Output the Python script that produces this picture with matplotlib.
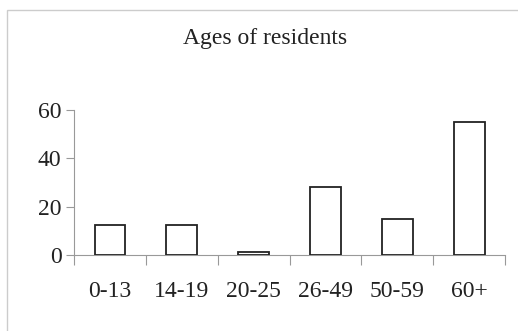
import matplotlib
matplotlib.use("Agg")
import matplotlib.pyplot as plt
from matplotlib.patches import Rectangle
import numpy as np

# data
groups = ["0-13", "14-19", "20-25", "26-49", "50-59", "60+"]
residents = [12.5, 12.5, 1, 28, 15, 55]

plt.rcParams["font.family"] = ["Liberation Serif", "DejaVu Serif"]

fig = plt.figure(figsize=(5.18, 3.31), dpi=100)
ax = fig.add_axes([0.143, 0.230, 0.832, 0.438])

x = np.arange(len(groups))
ax.bar(x, residents, width=0.43, color="white", edgecolor="#222222", linewidth=1.3, zorder=3)

ax.set_xlim(-0.5, len(groups) - 0.5)
ax.set_ylim(0, 60)
ax.set_yticks([0, 20, 40, 60])

# x ticks sit between categories, labels centred under bars
ax.set_xticks(np.arange(-0.5, len(groups)), minor=False)
ax.set_xticklabels([])
ax.set_xticks(x, minor=True)
ax.set_xticklabels(groups, minor=True)
ax.tick_params(axis="x", which="minor", length=0, pad=19, labelsize=17, colors="#222222")
ax.tick_params(axis="x", which="major", length=7, width=0.8, color="#999999")
ax.tick_params(axis="y", length=6, width=0.8, color="#999999", labelsize=17, labelcolor="#222222", pad=3)

for s in ["top", "right"]:
    ax.spines[s].set_visible(False)
for s in ["left", "bottom"]:
    ax.spines[s].set_color("#999999")
    ax.spines[s].set_linewidth(0.8)

fig.text(0.512, 0.885, "Ages of residents", ha="center", va="center", fontsize=17, color="#222222")

# light frame round the chart
fig.patches.append(Rectangle((0.014, -0.05), 1.05, 1.02, transform=fig.transFigure,
                             fill=False, edgecolor="#cccccc", linewidth=1.0))

fig.savefig("out.png", dpi=100)
